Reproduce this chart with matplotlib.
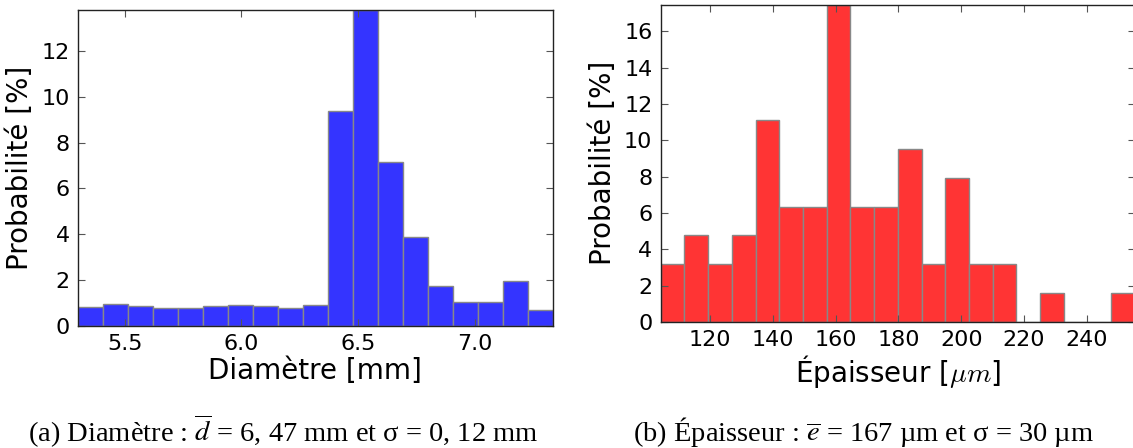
import numpy as np
import matplotlib
matplotlib.use('Agg')
import matplotlib.pyplot as plt


# diametre : histogramme (19 classes), valeurs en %
diam_start = 5.30
diam_width = 0.107
diam_prob = [0.81, 0.96, 0.88, 0.80, 0.80, 0.86, 0.91, 0.87, 0.79, 0.91,
             9.36, 13.78, 7.16, 3.87, 1.74, 1.05, 1.06, 1.97, 0.70]
diam_ticks = [5.5, 6.0, 6.5, 7.0]

# epaisseur : histogramme (20 classes), valeurs en %
ep_start = 104.3
ep_width = 7.55
ep_prob = [3.17, 4.76, 3.17, 4.76, 11.11, 6.35, 6.35, 17.46, 6.35, 6.35,
           9.52, 3.17, 7.94, 3.17, 3.17, 0.0, 1.59, 0.0, 0.0, 1.59]
ep_ticks = [120, 140, 160, 180, 200, 220, 240]

caption_a = r"(a) Diamètre : $\overline{d}$ = 6, 47 mm et σ = 0, 12 mm"
caption_b = r"(b) Épaisseur : $\overline{e}$ = 167 µm et σ = 30 µm"


def draw_hist(ax, start, width, prob, color, ticks):
    edges = start + width * np.arange(len(prob) + 1)
    ax.bar(edges[:-1], prob, width=width, align='edge', color=color,
           edgecolor='#888888', linewidth=1.0)
    ax.set_xlim(edges[0], edges[-1])
    ax.set_ylim(0, max(prob))
    ax.set_xticks(ticks)
    ax.tick_params(direction='in', top=True, right=True, length=5,
                   width=0.8, color='#555555', labelsize=16, pad=6)
    for s in ax.spines.values():
        s.set_linewidth(1.0)
        s.set_color('#222222')


fig = plt.figure(figsize=(11.33, 4.48), dpi=100)

ax1 = fig.add_axes([0.0688, 0.2723, 0.4192, 0.7054])
draw_hist(ax1, diam_start, diam_width, diam_prob, '#3434ff', diam_ticks)
ax1.set_yticks(range(0, 13, 2))
ax1.set_xticklabels(['5.5', '6.0', '6.5', '7.0'])
ax1.set_xlabel('Diamètre [mm]', fontsize=20, labelpad=2)
ax1.set_ylabel('Probabilité [%]', fontsize=20, labelpad=5)

ax2 = fig.add_axes([0.5831, 0.28125, 0.4186, 0.7083])
draw_hist(ax2, ep_start, ep_width, ep_prob, '#ff3434', ep_ticks)
ax2.set_yticks(range(0, 17, 2))
ax2.set_xlabel(r'Épaisseur [$\mu m$]', fontsize=20, labelpad=2,
               math_fontfamily='cm')
ax2.set_ylabel('Probabilité [%]', fontsize=20, labelpad=5)

fig.text(283 / 1133, 1 - 441 / 448, caption_a, ha='center', va='baseline',
         fontsize=20.5, family='Liberation Serif', math_fontfamily='stix')
fig.text(864 / 1133, 1 - 441 / 448, caption_b, ha='center', va='baseline',
         fontsize=20.5, family='Liberation Serif', math_fontfamily='stix')

fig.savefig('out.png', dpi=100)
